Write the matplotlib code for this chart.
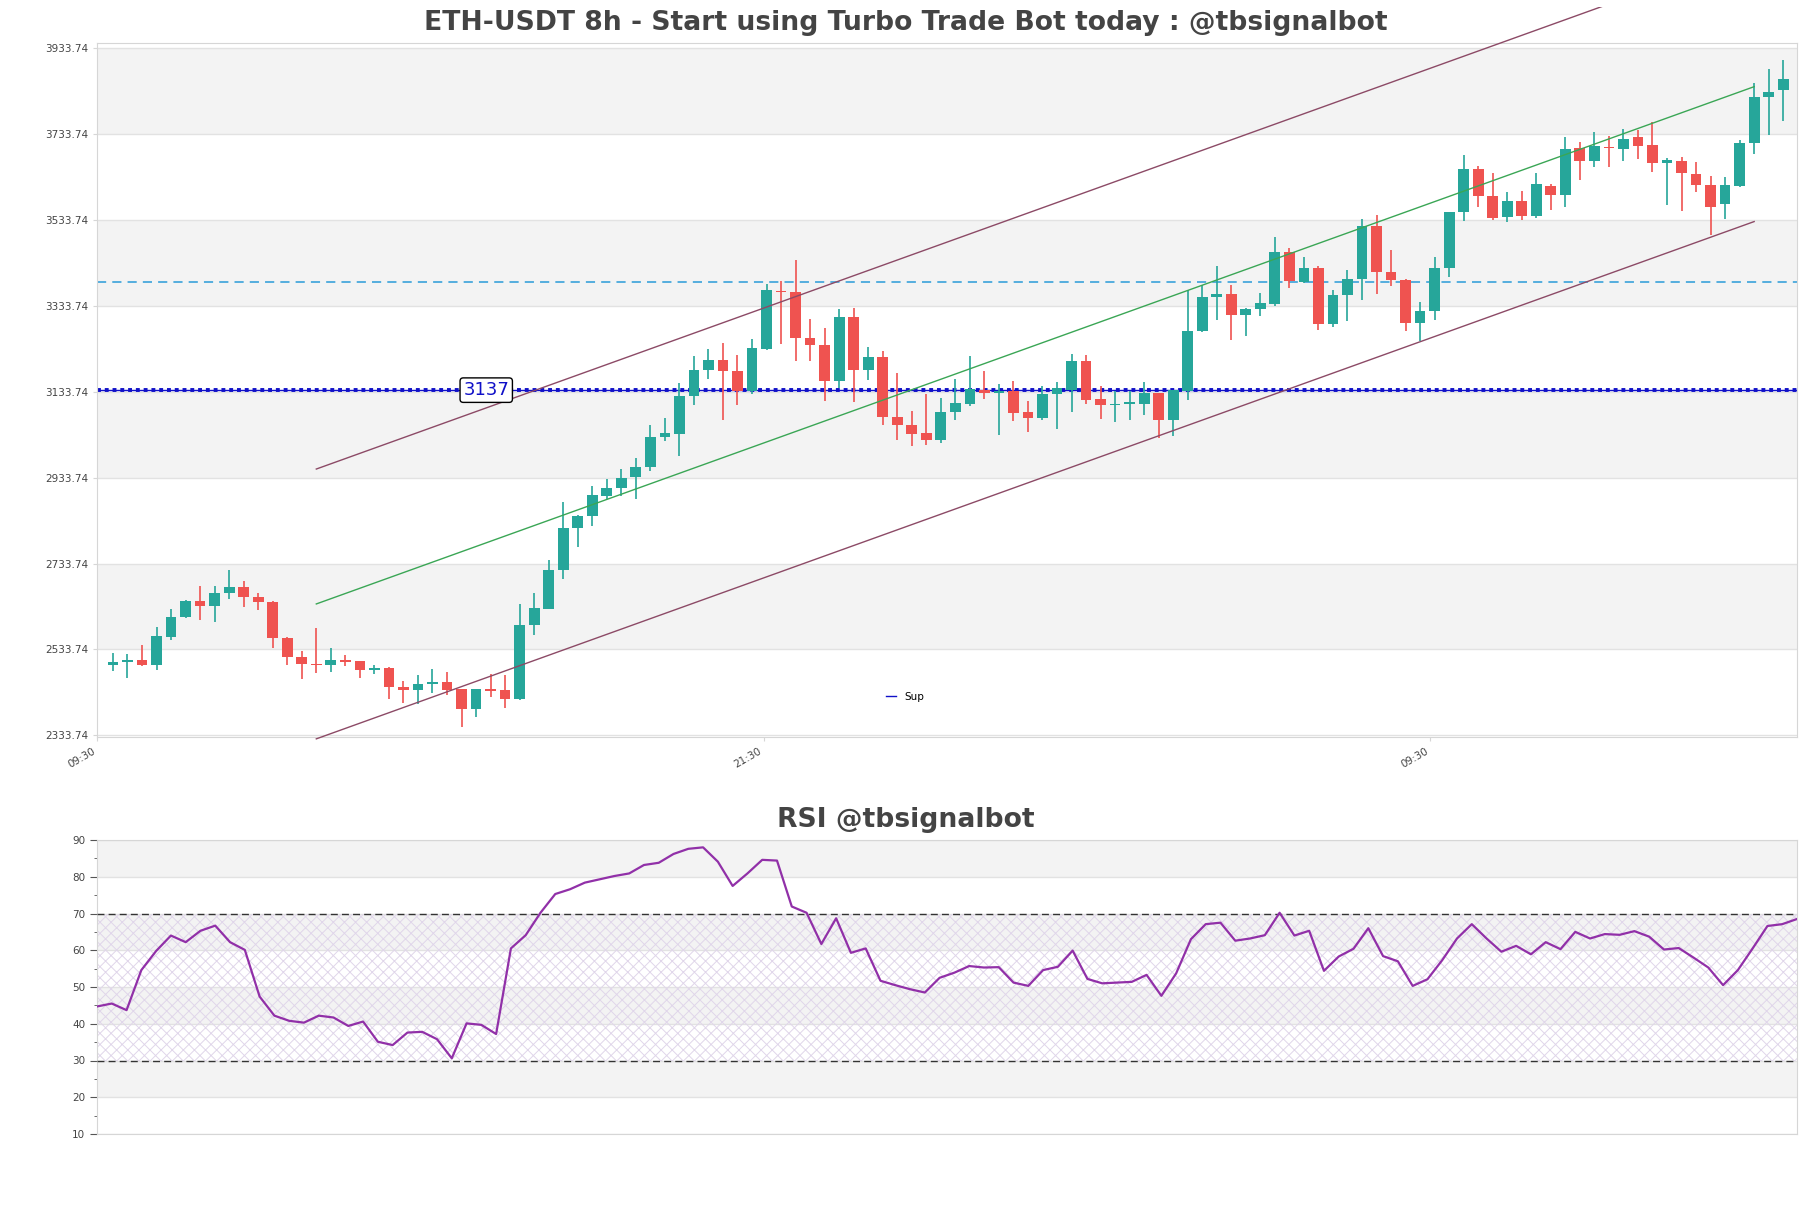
import numpy as np
import matplotlib
matplotlib.use("Agg")
import matplotlib.pyplot as plt

# ---- candle data (8h candles) ----
opens = [2497.3, 2504.2, 2510.4, 2497.3, 2563.9, 2608.9, 2647.6, 2634.4, 2664.7, 2680.2,
         2656.9, 2645.3, 2561.6, 2517.4, 2501.1, 2497.3, 2510.4, 2506.5, 2485.6, 2491.8,
         2447.6, 2439.1, 2453.1, 2457.0, 2440.7, 2395.0, 2440.7, 2438.4, 2418.2, 2590.3,
         2629.0, 2718.1, 2815.8, 2843.7, 2890.2, 2908.8, 2934.4, 2957.6, 3027.4, 3035.9,
         3122.7, 3183.1, 3207.9, 3182.4, 3135.9, 3233.5, 3368.4, 3365.3, 3259.1, 3242.8,
         3157.6, 3307.9, 3183.1, 3214.9, 3075.4, 3056.8, 3038.2, 3020.4, 3086.2, 3104.1,
         3138.2, 3130.4, 3135.9, 3085.5, 3071.5, 3127.3, 3138.2, 3205.6, 3117.2, 3101.8,
         3104.1, 3105.6, 3129.6, 3066.9, 3135.1, 3273.8, 3352.8, 3361.4, 3311.0, 3325.7,
         3338.1, 3458.2, 3388.5, 3421.8, 3290.8, 3357.5, 3396.2, 3517.9, 3412.5, 3393.9,
         3293.2, 3320.3, 3420.3, 3550.5, 3651.2, 3588.4, 3538.8, 3577.6, 3541.2, 3612.5,
         3590.0, 3700.0, 3670.6, 3701.6, 3698.5, 3725.6, 3707.8, 3665.2, 3670.6, 3640.4,
         3614.8, 3569.1, 3610.9, 3710.9, 3817.8, 3834.9]
highs = [2525.9, 2524.4, 2543.8, 2587.2, 2629.0, 2650.0, 2680.9, 2682.5, 2719.7, 2694.1,
         2666.2, 2647.0, 2562.5, 2531.4, 2584.8, 2536.8, 2522.0, 2507.0, 2497.3, 2493.4,
         2459.3, 2474.0, 2489.5, 2482.5, 2441.0, 2442.2, 2477.9, 2474.8, 2640.6, 2664.7,
         2742.9, 2877.8, 2846.0, 2915.0, 2930.5, 2953.7, 2979.3, 3056.0, 3072.3, 3153.7,
         3217.2, 3233.5, 3246.7, 3219.6, 3256.0, 3383.8, 3391.6, 3440.4, 3303.3, 3282.3,
         3326.5, 3328.1, 3238.2, 3228.9, 3177.7, 3089.4, 3128.1, 3118.8, 3163.0, 3217.2,
         3182.4, 3151.4, 3159.1, 3112.6, 3147.5, 3155.2, 3221.9, 3219.6, 3147.5, 3135.9,
         3135.9, 3156.8, 3130.5, 3137.5, 3370.7, 3382.3, 3424.9, 3382.3, 3328.1, 3362.9,
         3493.1, 3467.5, 3446.6, 3426.5, 3369.1, 3415.6, 3535.0, 3543.5, 3462.1, 3394.5,
         3342.0, 3445.8, 3551.9, 3683.0, 3659.0, 3641.1, 3598.5, 3600.8, 3641.9, 3617.1,
         3724.8, 3714.8, 3738.0, 3727.2, 3744.2, 3742.7, 3760.5, 3676.8, 3679.1, 3667.5,
         3634.2, 3632.6, 3719.4, 3851.2, 3884.5, 3905.4]
lows = [2483.3, 2467.0, 2494.9, 2485.6, 2556.9, 2606.0, 2601.9, 2597.2, 2650.7, 2632.1,
        2626.7, 2536.8, 2498.8, 2464.7, 2479.4, 2481.0, 2494.9, 2467.8, 2476.3, 2419.0,
        2409.7, 2408.1, 2432.9, 2429.0, 2353.74, 2377.1, 2423.6, 2398.1, 2415.9, 2567.0,
        2628.0, 2698.0, 2771.6, 2820.4, 2884.0, 2890.2, 2884.8, 2948.3, 3018.1, 2984.7,
        3101.8, 3163.8, 3066.9, 3101.8, 3128.1, 3229.6, 3245.1, 3205.6, 3205.6, 3112.6,
        3142.0, 3109.5, 3159.9, 3055.2, 3021.9, 3006.4, 3010.3, 3014.2, 3068.4, 3099.4,
        3117.2, 3032.0, 3064.5, 3039.0, 3066.9, 3045.9, 3085.5, 3105.6, 3070.7, 3062.2,
        3068.4, 3078.5, 3025.8, 3029.7, 3114.9, 3273.0, 3300.9, 3254.4, 3262.2, 3308.7,
        3331.9, 3373.8, 3386.2, 3277.7, 3283.1, 3297.0, 3345.9, 3359.8, 3378.4, 3275.3,
        3250.5, 3299.4, 3400.1, 3529.5, 3562.1, 3533.4, 3527.2, 3531.9, 3538.0, 3556.7,
        3563.6, 3626.4, 3655.1, 3655.1, 3670.6, 3675.2, 3645.0, 3566.7, 3552.8, 3597.0,
        3498.5, 3535.7, 3610.0, 3686.9, 3731.0, 3763.6]
closes = [2505.0, 2510.4, 2497.3, 2566.2, 2610.4, 2647.6, 2634.4, 2666.2, 2680.2, 2655.4,
          2643.7, 2560.0, 2515.9, 2499.6, 2497.3, 2510.4, 2504.2, 2485.6, 2491.8, 2446.1,
          2439.1, 2454.6, 2457.0, 2439.1, 2395.0, 2440.7, 2436.8, 2418.2, 2591.8, 2631.3,
          2719.7, 2817.3, 2845.2, 2894.0, 2908.8, 2933.6, 2959.2, 3028.9, 3037.4, 3124.2,
          3184.7, 3207.9, 3180.8, 3135.9, 3235.8, 3369.1, 3365.3, 3257.5, 3241.3, 3157.6,
          3307.9, 3183.1, 3214.9, 3074.6, 3055.2, 3035.1, 3020.4, 3087.0, 3106.4, 3139.7,
          3130.4, 3135.9, 3083.1, 3071.5, 3128.9, 3141.3, 3205.6, 3114.9, 3101.8, 3105.6,
          3108.7, 3129.6, 3066.9, 3136.6, 3275.3, 3354.4, 3361.4, 3311.0, 3325.7, 3340.4,
          3458.2, 3390.0, 3421.8, 3290.8, 3359.0, 3395.5, 3517.9, 3411.0, 3392.4, 3293.2,
          3321.8, 3421.0, 3551.2, 3651.2, 3587.7, 3538.1, 3577.6, 3541.2, 3617.1, 3590.0,
          3698.5, 3670.6, 3705.5, 3699.3, 3721.0, 3703.9, 3665.2, 3672.1, 3641.1, 3613.2,
          3562.1, 3614.8, 3711.7, 3818.6, 3831.0, 3860.5]

# RSI values, one per candle
rsi = [44.7, 45.5, 43.7, 54.6, 59.8, 64.0, 62.2, 65.3, 66.7, 62.2,
       60.1, 47.4, 42.2, 40.8, 40.3, 42.2, 41.7, 39.4, 40.6, 35.1,
       34.2, 37.6, 37.8, 35.8, 30.6, 40.1, 39.7, 37.2, 60.5, 64.1,
       70.2, 75.3, 76.6, 78.4, 79.3, 80.2, 80.9, 83.2, 83.8, 86.2,
       87.6, 88.0, 84.1, 77.5, 80.9, 84.6, 84.4, 71.9, 70.2, 61.7,
       68.7, 59.3, 60.5, 51.7, 50.5, 49.4, 48.5, 52.5, 53.9, 55.7,
       55.3, 55.4, 51.2, 50.3, 54.6, 55.5, 59.9, 52.2, 51.0, 51.2,
       51.4, 53.3, 47.6, 53.7, 63.0, 67.1, 67.5, 62.6, 63.2, 64.1,
       70.2, 64.0, 65.3, 54.4, 58.3, 60.4, 66.0, 58.4, 57.0, 50.3,
       52.1, 57.3, 63.2, 67.1, 63.2, 59.6, 61.2, 58.9, 62.2, 60.3,
       65.0, 63.2, 64.4, 64.2, 65.2, 63.7, 60.2, 60.6, 58.0, 55.3,
       50.5, 54.6, 60.5, 66.6, 67.1, 68.5]

# regression channel (candle index, mid price) and half width
channel_idx = [14, 113]
channel_mid = [2639.7, 3842.9]
channel_width = 313.8

sup_level = 3137
res_level = 3388

price_ticks = [2333.74 + 200 * k for k in range(9)]
time_tick_pos = [-1.1, 44.8, 90.7]
time_tick_labels = ['09:30', '21:30', '09:30']
rsi_ticks = [10, 20, 30, 40, 50, 60, 70, 80, 90]

UP = '#26a69a'
DOWN = '#ef5350'
BAND = '#f3f3f3'
GRID = '#e2e2e2'
TXT = '#444444'

fig = plt.figure(figsize=(18.11, 12.08), dpi=100)
ax = fig.add_axes([97 / 1811, 1 - 737 / 1208, 1700 / 1811, 694 / 1208])
ax2 = fig.add_axes([97 / 1811, 1 - 1134 / 1208, 1700 / 1811, 294 / 1208])


def style_axes(a, ticks):
    for s in a.spines.values():
        s.set_color('#d6d6d6')
    for k in range(len(ticks) - 1):
        if k % 2 == 1:
            a.axhspan(ticks[k], ticks[k + 1], color=BAND, lw=0, zorder=0)
    for t in ticks:
        a.axhline(t, color=GRID, lw=1, zorder=0.5)


# ---- price chart ----
n = len(closes)
idx = np.arange(n)
o = np.array(opens)
c = np.array(closes)
h = np.array(highs)
l = np.array(lows)
cols = [UP if c[i] >= o[i] else DOWN for i in range(n)]

style_axes(ax, price_ticks)
ax.vlines(idx, l, h, colors=cols, lw=1.2, zorder=3)
body = np.maximum(np.abs(c - o), 1.5)
ax.bar(idx, body, bottom=np.minimum(o, c), width=0.74, color=cols, lw=0, zorder=4)

# channel lines run off the axes (not clipped), but stop a few px under the figure top
top_clip = plt.Rectangle((0, 0), 1, 1 - 7 / 1208, transform=fig.transFigure)
cx = np.array(channel_idx)
cm = np.array(channel_mid)
for off, col in [(0, '#3aa655'), (channel_width, '#8c4a66'), (-channel_width, '#8c4a66')]:
    ln, = ax.plot(cx, cm + off, color=col, lw=1, zorder=5)
    ln.set_clip_path(top_clip)

ax.axhline(res_level, color='#2a9bd8', lw=1.1, ls=(0, (6, 4)), zorder=2)
ax.axhline(sup_level, color='#1010c8', lw=1.0, zorder=2, label='Sup')
ax.axhline(sup_level, color='#1010c8', lw=2.8, ls=(0, (1, 1)), zorder=2)
ax.text(25.7, sup_level, str(sup_level), color='#1010c8', fontsize=13,
        ha='center', va='center', zorder=6,
        bbox=dict(boxstyle='round,pad=0.18', fc='white', ec='black', lw=1))

ax.set_xlim(-1.05, 115.95)
ax.set_ylim(min(lows) * 0.99, max(highs) * 1.01)
ax.set_yticks(price_ticks)
ax.set_yticklabels(['%.2f' % t for t in price_ticks])
ax.set_xticks(time_tick_pos)
ax.set_xticklabels(time_tick_labels, rotation=30, ha='right')
ax.tick_params(axis='both', labelsize=7.5, colors=TXT, length=3, color='#d6d6d6')

ax.legend(loc='center', bbox_to_anchor=(905 / 1811, 1 - 697 / 1208),
          bbox_transform=fig.transFigure, frameon=False, fontsize=7.5,
          handlelength=1.0, handletextpad=0.8)

# ---- RSI ----
style_axes(ax2, rsi_ticks)
plt.rcParams['hatch.linewidth'] = 0.7
ax2.axhspan(30, 70, fill=False, hatch='xxx', edgecolor='#e0d6ea', lw=0, zorder=1)
ax2.axhline(70, color='#333333', lw=1, ls=(0, (5, 3)), zorder=3)
ax2.axhline(30, color='#333333', lw=1, ls=(0, (5, 3)), zorder=3)
ax2.plot(np.arange(len(rsi)), rsi, color='#9130a8', lw=1.6, zorder=4)
ax2.set_xlim(0, len(rsi) - 1)
ax2.set_ylim(10, 90)
ax2.set_yticks(rsi_ticks)
ax2.set_yticks(np.arange(15, 90, 10), minor=True)
ax2.set_xticks([])
ax2.tick_params(axis='y', labelsize=7.5, colors=TXT, length=5, color='#555555')
ax2.tick_params(axis='y', which='minor', length=2.5, color='#555555')

fig.text(0.5, 1 - 23 / 1208, 'ETH-USDT 8h - Start using Turbo Trade Bot today : @tbsignalbot',
         ha='center', va='center', fontsize=19.2, fontweight='bold', color=TXT)
fig.text(0.5, 1 - 820 / 1208, 'RSI @tbsignalbot', ha='center', va='center',
         fontsize=19.2, fontweight='bold', color=TXT)

fig.savefig('out.png', dpi=100)
